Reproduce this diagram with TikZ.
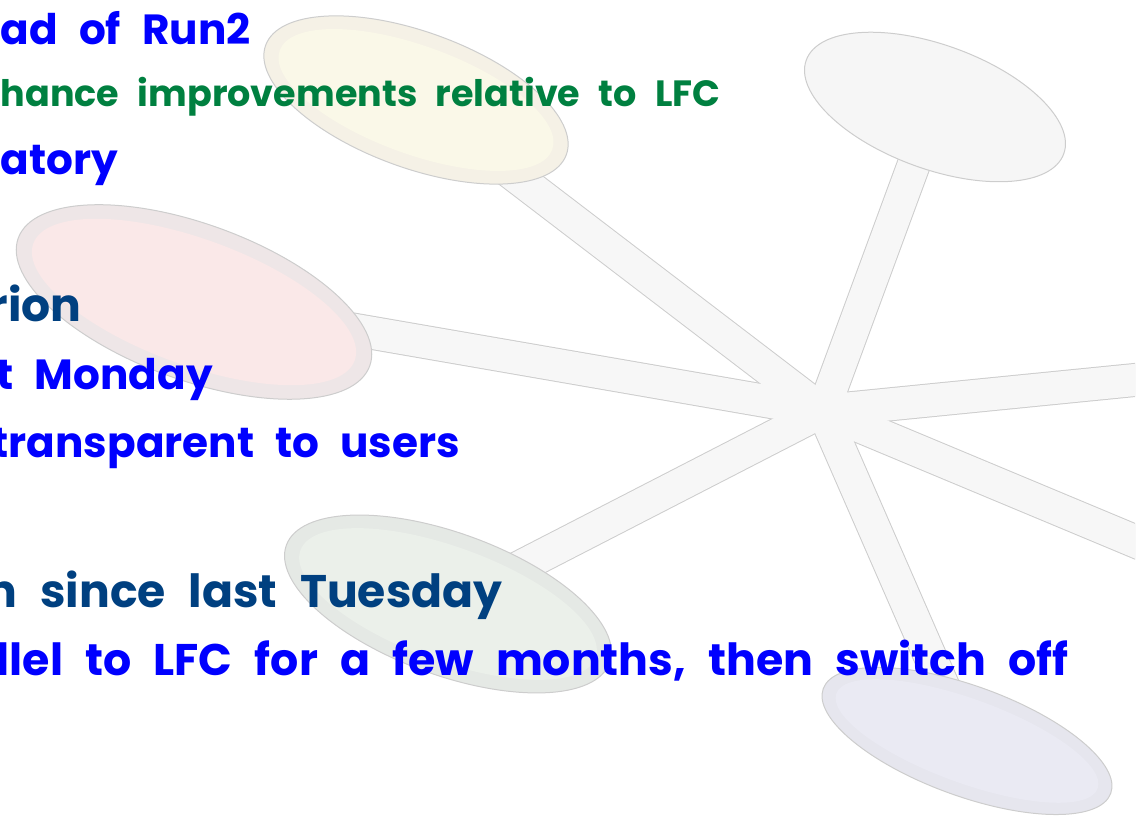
\documentclass[tikz,border=0pt]{standalone}
\usepackage{fontspec}
\setmainfont{Poppins}
\usetikzlibrary{shapes.geometric}

\definecolor{runblue}{RGB}{0,0,255}
\definecolor{rungreen}{RGB}{0,128,64}
\definecolor{runnavy}{RGB}{0,64,128}
\definecolor{spokegray}{RGB}{205,205,205}
\definecolor{spokelight}{RGB}{247,247,247}
\definecolor{yellowring}{RGB}{245,241,230}
\definecolor{yellowin}{RGB}{250,248,232}
\definecolor{greyin}{RGB}{246,246,246}
\definecolor{pinkring}{RGB}{238,230,231}
\definecolor{pinkin}{RGB}{250,232,232}
\definecolor{greenring}{RGB}{229,233,229}
\definecolor{greenin}{RGB}{235,240,234}
\definecolor{lilacring}{RGB}{230,230,238}
\definecolor{lilacin}{RGB}{234,234,243}

\newcommand\slidefont[1]{\bfseries\fontsize{#1}{#1}\selectfont\spaceskip=0.5em\relax}

\begin{document}
\begin{tikzpicture}[x=0.1mm, y=-0.1mm,
	spokeedge/.style={line width=3.4mm, draw=spokegray, line cap=round},
	spokefill/.style={line width=3.2mm, draw=spokelight, line cap=round},
	dish/.style={ellipse, draw=spokegray, line width=0.1mm, inner sep=0pt, rotate=-20},
	dishin/.style={ellipse, inner sep=0pt, rotate=-20},
	bullet/.style={anchor=base west, inner sep=0pt, font=\slidefont{#1}}]
	\useasboundingbox (0,0) rectangle (1147,826);
	\clip (0,0) rectangle (1147,826);
	
	% spokes
	\coordinate (hub) at (823,411);
	\coordinate (yellowc) at (416,100);
	\coordinate (greyc) at (935,107);
	\coordinate (pinkc) at (194,302);
	\coordinate (greenc) at (448,604);
	\coordinate (lilacc) at (967,741);
	\coordinate (eastend) at (1175,376);
	\coordinate (southeastend) at (1175,558);
	\begin{scope}
		\clip (0,0) rectangle (1135,826);
		\foreach \e in {yellowc,greyc,pinkc,greenc,lilacc,eastend,southeastend}
			\draw [spokeedge] (hub) -- (\e);
		\foreach \e in {yellowc,greyc,pinkc,greenc,lilacc,eastend,southeastend}
			\draw [spokefill] (hub) -- (\e);
	\end{scope}
	
	% dishes
	\node [dish, fill=yellowring, minimum width=32mm, minimum height=13.6mm] (yellow) at (yellowc) {};
	\node [dishin, fill=yellowin, minimum width=29mm, minimum height=10.8mm] (yellowin) at (yellowc) {};
	\node [dish, fill=greyin, minimum width=27.4mm, minimum height=12.4mm] (grey) at (greyc) {};
	\node [dish, fill=pinkring, minimum width=37.4mm, minimum height=15.6mm] (pink) at (pinkc) {};
	\node [dishin, fill=pinkin, minimum width=34.2mm, minimum height=12.6mm] (pinkin) at (pinkc) {};
	\node [dish, fill=greenring, minimum width=34.4mm, minimum height=14.2mm] (green) at (greenc) {};
	\node [dishin, fill=greenin, minimum width=31.4mm, minimum height=11.4mm] (greenin) at (greenc) {};
	\node [dish, fill=lilacring, minimum width=30.6mm, minimum height=11mm] (lilac) at (lilacc) {};
	\node [dishin, fill=lilacin, minimum width=27.8mm, minimum height=8.4mm] (lilacin) at (lilacc) {};
	
	% text
	\node [bullet=12pt, text=runblue] (run) at (0,45) {ad of Run2};
	\node [bullet=10.4pt, text=rungreen] (perf) at (0,107) {hance improvements relative to LFC};
	\node [bullet=12pt, text=runblue] (mand) at (0,175) {atory};
	\node [bullet=13pt, text=runnavy] (prod) at (-12,322) {rion};
	\node [bullet=12pt, text=runblue] (mon) at (-4,390) {t Monday};
	\node [bullet=12pt, text=runblue] (users) at (-9,458) {transparent to users};
	\node [bullet=13pt, text=runnavy] (tue) at (-14,608) {n since last Tuesday};
	\node [bullet=12.6pt, text=runblue] (off) at (-4,676) {llel to LFC for a few months, then switch off};
\end{tikzpicture}
\end{document}
